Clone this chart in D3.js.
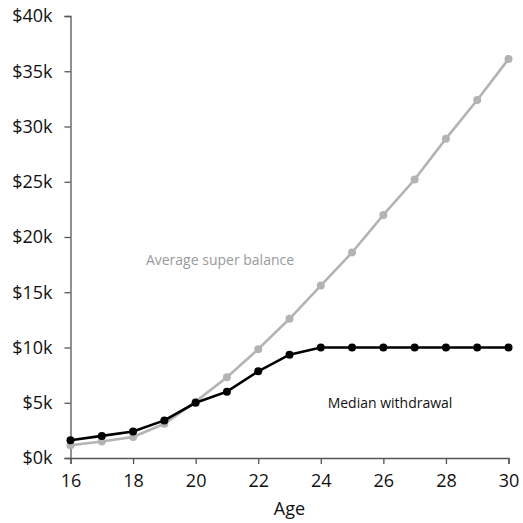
<!DOCTYPE html>
<html>
<head>
<meta charset="utf-8">
<script src="https://cdn.jsdelivr.net/npm/d3@7"></script>
<style>
  body { margin: 0; background: #fff; }
  svg text { font-family: "Open Sans", "Lato", sans-serif; }
</style>
</head>
<body>
<svg id="chart" width="523" height="523"></svg>
<script>
const ages = [16, 17, 18, 19, 20, 21, 22, 23, 24, 25, 26, 27, 28, 29, 30];
const balance = [1.15, 1.5, 1.9, 3.1, 5.1, 7.3, 9.85, 12.6, 15.6, 18.6, 22.0, 25.2, 28.9, 32.4, 36.1];
const withdrawal = [1.6, 2.0, 2.4, 3.4, 5.0, 6.0, 7.85, 9.35, 10, 10, 10, 10, 10, 10, 10];
const xTicks = [16, 18, 20, 22, 24, 26, 28, 30];
const yTicks = [0, 5, 10, 15, 20, 25, 30, 35, 40];

const svg = d3.select('#chart');
const x = d3.scaleLinear().domain([16, 30]).range([70.5, 508.5]);
const y = d3.scaleLinear().domain([0, 40]).range([458, 16]);

const xAxis = svg.append('g')
  .attr('transform', 'translate(0,458)')
  .call(d3.axisBottom(x).tickValues(xTicks).tickSize(6).tickPadding(10));
const yAxis = svg.append('g')
  .attr('transform', 'translate(70.5,0)')
  .call(d3.axisLeft(y).tickValues(yTicks).tickSize(6).tickPadding(12)
    .tickFormat(d => '$' + d + 'k'));

[xAxis, yAxis].forEach(a => {
  a.select('.domain').attr('stroke', '#555').attr('stroke-width', 1.3);
  a.selectAll('.tick line').attr('stroke', '#555').attr('stroke-width', 1.3);
  a.selectAll('.tick text').attr('fill', '#111').style('font-size', '18px');
});

const line = d3.line().x((d, i) => x(ages[i])).y(d => y(d));

const series = [
  { vals: balance, color: '#b3b3b3' },
  { vals: withdrawal, color: '#000' }
];

series.forEach(s => {
  svg.append('path')
    .attr('d', line(s.vals))
    .attr('fill', 'none')
    .attr('stroke', s.color)
    .attr('stroke-width', 2.6);
  svg.selectAll(null)
    .data(s.vals)
    .enter().append('circle')
    .attr('cx', (d, i) => x(ages[i]))
    .attr('cy', d => y(d))
    .attr('r', 4)
    .attr('fill', s.color);
});

svg.append('text')
  .attr('x', 220).attr('y', 265)
  .attr('text-anchor', 'middle')
  .attr('fill', '#999')
  .style('font-size', '14px')
  .text('Average super balance');

svg.append('text')
  .attr('x', 390).attr('y', 408)
  .attr('text-anchor', 'middle')
  .attr('fill', '#111')
  .style('font-size', '14px')
  .text('Median withdrawal');

svg.append('text')
  .attr('x', 289.5).attr('y', 515)
  .attr('text-anchor', 'middle')
  .attr('fill', '#111')
  .style('font-size', '18px')
  .text('Age');
</script>
</body>
</html>
